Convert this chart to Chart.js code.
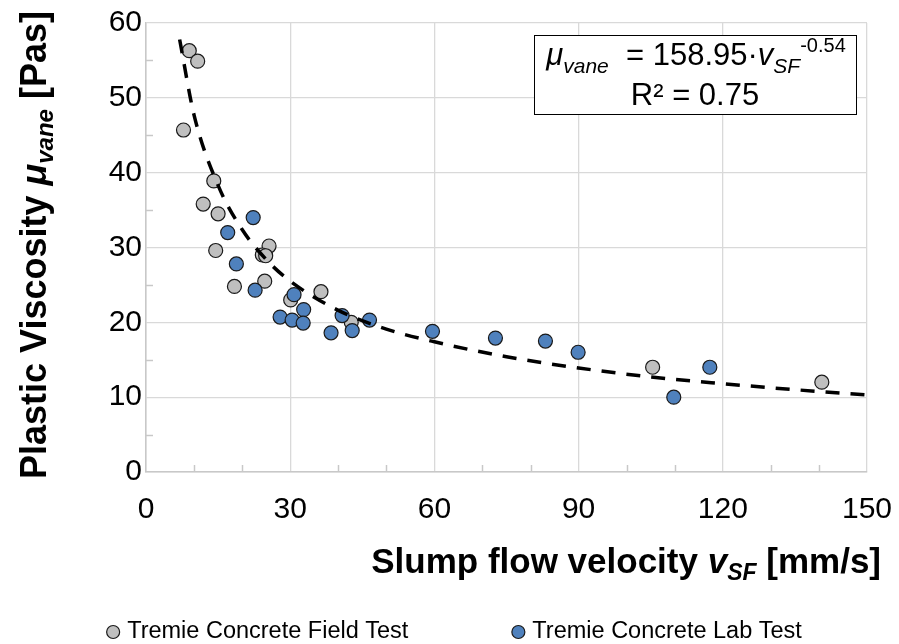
<!DOCTYPE html>
<html>
<head>
<meta charset="utf-8">
<script src="https://cdn.jsdelivr.net/npm/chart.js@4.4.1/dist/chart.umd.min.js"></script>
<style>
  html, body { margin: 0; padding: 0; background: #fff; }
  #wrap { width: 899px; height: 644px; }
</style>
</head>
<body>
<div id="wrap"><canvas id="c" width="899" height="644"></canvas></div>
<script>
// field test points (gray)
const fieldX = [9.0, 10.75, 7.8, 14.1, 11.9, 15.0, 14.5, 25.6, 24.2, 24.9, 18.4, 24.7, 30.1, 36.4, 42.7, 105.4, 140.6];
const fieldY = [56.3, 54.9, 45.7, 38.9, 35.8, 34.5, 29.6, 30.2, 29.0, 28.9, 24.8, 25.5, 23.0, 24.1, 20.0, 14.0, 12.0];

// lab test points (blue)
const labX = [22.3, 17.0, 18.8, 22.7, 30.8, 32.8, 27.9, 30.4, 32.7, 38.5, 40.8, 42.9, 46.5, 59.6, 72.7, 83.1, 89.9, 109.8, 117.3];
const labY = [34.0, 32.0, 27.8, 24.3, 23.7, 21.7, 20.7, 20.3, 19.9, 18.6, 20.9, 18.9, 20.3, 18.8, 17.9, 17.5, 16.0, 10.0, 14.0];

// power trendline
const trendX = [7, 10, 15, 20, 25, 30, 40, 50, 60, 75, 90, 105, 120, 135, 150];
const trendY = [57.8, 47.7, 38.3, 32.4, 28.4, 25.5, 21.6, 19.1, 17.4, 15.4, 13.9, 12.7, 11.8, 11.0, 10.3];

const xMinor = [10, 20, 40, 50, 70, 80, 100, 110, 130, 140];
const yMinor = [5, 15, 25, 35, 45, 55];

const legendLabels = ['Tremie Concrete Field Test', 'Tremie Concrete Lab Test'];
const FONT = 'Arial, "Liberation Sans", sans-serif';

const toPts = (xs, ys) => xs.map((x, i) => ({ x: x, y: ys[i] }));

// draw a run of text pieces with different fonts / offsets
function runWidth(ctx, runs) {
  let w = 0;
  runs.forEach(r => { ctx.font = r.font; w += ctx.measureText(r.t).width; });
  return w;
}
function drawRuns(ctx, runs, x, y) {
  runs.forEach(r => {
    ctx.font = r.font;
    ctx.fillText(r.t, x, y + (r.dy || 0));
    x += ctx.measureText(r.t).width;
  });
}

const extras = {
  id: 'extras',
  afterDraw(chart) {
    const ctx = chart.ctx;
    const xs = chart.scales.x, ys = chart.scales.y;
    const area = chart.chartArea;
    ctx.save();

    // minor ticks
    ctx.strokeStyle = '#c8c8c8';
    ctx.lineWidth = 1.5;
    xMinor.forEach(v => {
      const px = Math.round(xs.getPixelForValue(v)) + 0.5;
      ctx.beginPath(); ctx.moveTo(px, area.bottom); ctx.lineTo(px, area.bottom - 7); ctx.stroke();
    });
    yMinor.forEach(v => {
      const py = Math.round(ys.getPixelForValue(v)) + 0.5;
      ctx.beginPath(); ctx.moveTo(area.left, py); ctx.lineTo(area.left + 7, py); ctx.stroke();
    });

    ctx.fillStyle = '#000';
    ctx.textBaseline = 'alphabetic';
    ctx.textAlign = 'left';

    // y title
    const yRuns = [
      { t: 'Plastic Viscosity ', font: 'bold 36px ' + FONT },
      { t: 'μ', font: 'italic bold 36px ' + FONT },
      { t: 'vane', font: 'italic bold 24px ' + FONT, dy: 7 },
      { t: ' [Pas]', font: 'bold 36px ' + FONT }
    ];
    ctx.save();
    ctx.translate(46, 479);
    ctx.rotate(-Math.PI / 2);
    drawRuns(ctx, yRuns, 0, 0);
    ctx.restore();

    // x title
    const xRuns = [
      { t: 'Slump flow velocity ', font: 'bold 35px ' + FONT },
      { t: 'v', font: 'italic bold 35px ' + FONT },
      { t: 'SF', font: 'italic bold 23px ' + FONT, dy: 7 },
      { t: ' [mm/s]', font: 'bold 35px ' + FONT }
    ];
    drawRuns(ctx, xRuns, 881 - runWidth(ctx, xRuns), 573);

    // equation box
    ctx.fillStyle = '#fff';
    ctx.fillRect(534, 35, 322, 79);
    ctx.strokeStyle = '#000';
    ctx.lineWidth = 1;
    ctx.strokeRect(534.5, 35.5, 322, 79);
    ctx.fillStyle = '#000';
    const eq1 = [
      { t: 'μ', font: 'italic 31px ' + FONT },
      { t: 'vane', font: 'italic 21px ' + FONT, dy: 8 },
      { t: '  = 158.95·', font: '31px ' + FONT },
      { t: 'v', font: 'italic 31px ' + FONT },
      { t: 'SF', font: 'italic 21px ' + FONT, dy: 8 },
      { t: '-0.54', font: '20px ' + FONT, dy: -13 }
    ];
    drawRuns(ctx, eq1, 696 - runWidth(ctx, eq1) / 2, 65);
    const eq2 = [{ t: 'R² = 0.75', font: '31px ' + FONT }];
    drawRuns(ctx, eq2, 695 - runWidth(ctx, eq2) / 2, 105);

    // legend
    const sets = [chart.data.datasets[1], chart.data.datasets[2]];
    ctx.font = '23.5px ' + FONT;
    const tw = legendLabels.map(l => ctx.measureText(l).width);
    const itemW = tw.map(w => 14 + 7 + w);
    const gap = 103;
    let lx = 454 - (itemW[0] + gap + itemW[1]) / 2;
    const ly = 632;
    sets.forEach((ds, i) => {
      ctx.beginPath();
      ctx.arc(lx + 7, ly, 6.5, 0, Math.PI * 2);
      ctx.fillStyle = ds.backgroundColor;
      ctx.fill();
      ctx.lineWidth = 1.2;
      ctx.strokeStyle = ds.borderColor;
      ctx.stroke();
      ctx.fillStyle = '#000';
      ctx.font = '23.5px ' + FONT;
      ctx.textBaseline = 'middle';
      ctx.fillText(legendLabels[i], lx + 21, ly);
      lx += itemW[i] + gap;
    });

    ctx.restore();
  }
};

new Chart(document.getElementById('c'), {
  type: 'scatter',
  data: {
    datasets: [
      {
        type: 'line',
        label: 'Power trend',
        data: toPts(trendX, trendY),
        borderColor: '#000',
        borderWidth: 3.5,
        borderDash: [14, 11],
        pointRadius: 0,
        fill: false,
        cubicInterpolationMode: 'monotone',
        order: 0
      },
      {
        label: legendLabels[0],
        data: toPts(fieldX, fieldY),
        backgroundColor: '#bfbfbf',
        borderColor: '#1a1a1a',
        borderWidth: 1.2,
        pointRadius: 7,
        pointHoverRadius: 7,
        order: 2
      },
      {
        label: legendLabels[1],
        data: toPts(labX, labY),
        backgroundColor: '#4f81bd',
        borderColor: '#1a1a1a',
        borderWidth: 1.2,
        pointRadius: 7,
        pointHoverRadius: 7,
        order: 1
      }
    ]
  },
  options: {
    responsive: false,
    animation: false,
    layout: { padding: { top: 23, right: 32, left: 0, bottom: 0 } },
    scales: {
      x: {
        type: 'linear',
        min: 0,
        max: 150,
        afterFit: s => { s.height = 172; s.paddingLeft = 0; s.paddingRight = 0; },
        ticks: { stepSize: 30, padding: 20, color: '#000', font: { family: FONT, size: 30 } },
        grid: { color: '#d9d9d9', lineWidth: 1.3, drawTicks: false },
        border: { color: '#c8c8c8', width: 1.5 }
      },
      y: {
        min: 0,
        max: 60,
        afterFit: s => { s.width = 146; s.paddingTop = 0; s.paddingBottom = 0; },
        ticks: { stepSize: 10, padding: 4, color: '#000', font: { family: FONT, size: 30 } },
        grid: { color: '#d9d9d9', lineWidth: 1.3, drawTicks: false },
        border: { color: '#c8c8c8', width: 1.5 }
      }
    },
    plugins: {
      legend: { display: false },
      tooltip: { enabled: false }
    }
  },
  plugins: [extras]
});
</script>
</body>
</html>
